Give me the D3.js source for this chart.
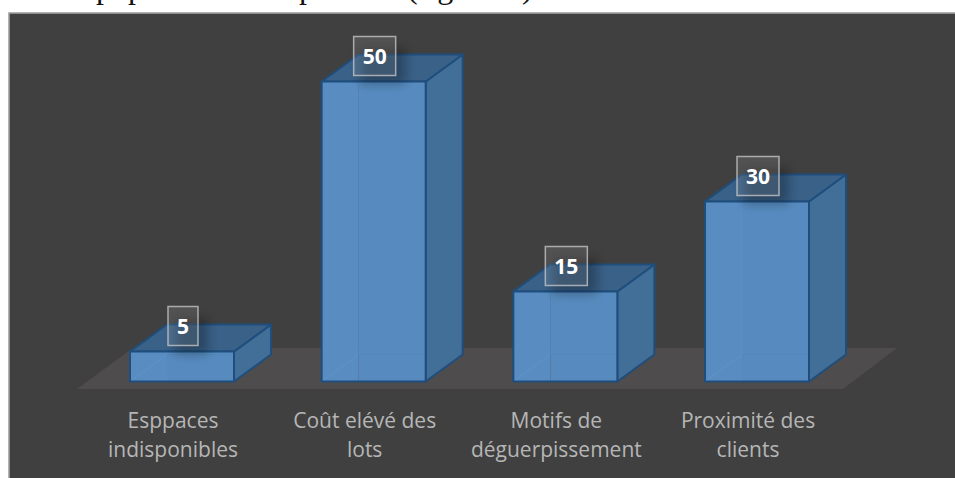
<!DOCTYPE html>
<html>
<head>
<meta charset="utf-8">
<script src="https://cdn.jsdelivr.net/npm/d3@7/dist/d3.min.js"></script>
<style>
html,body{margin:0;padding:0;background:#fff;overflow:hidden}
svg{display:block}
</style>
</head>
<body>
<svg id="c" width="955" height="478"></svg>
<script>
const categories = ["Esppaces\nindisponibles", "Coût elévé des\nlots", "Motifs de\ndéguerpissement", "Proximité des\nclients"];
const values = [5, 50, 15, 30];
const headingParts = [["pop", 96], ["p", 299], ["(fig", 407], [")", 522]];

const svg = d3.select("#c");
const defs = svg.append("defs");
defs.append("filter").attr("id", "soft").attr("x", "-60%").attr("y", "-60%").attr("width", "220%").attr("height", "220%")
  .append("feGaussianBlur").attr("stdDeviation", 5.5);

const x = d3.scaleBand().domain(categories).range([130, 809]).paddingInner(0.4574).paddingOuter(0);
const y = d3.scaleLinear().domain([0, 50]).range([381.5, 81.5]);
const dx = 37, dy = -27;
const poly = pts => pts.map(p => p.join(",")).join(" ");

// clipped heading line of the surrounding document
svg.append("text").attr("font-family", "Liberation Serif").attr("font-size", 32).attr("fill", "#111").attr("y", -2)
  .selectAll("tspan").data(headingParts).join("tspan").attr("x", d => d[1]).text(d => d[0]);

// panel
svg.append("rect").attr("x", 9).attr("y", 13).attr("width", 960).attr("height", 480)
  .attr("fill", "#404040").attr("stroke", "#a0a0a0").attr("stroke-width", 1.6);

// floor
const fy0 = y(0) + 7.5, fy1 = 348;
svg.append("polygon").attr("fill", "#4f4c4d")
  .attr("points", poly([[77, fy0], [843, fy0], [897, fy1], [133, fy1]]));

// bars
const bars = svg.selectAll("g.bar").data(categories.map((c, i) => ({c, v: values[i]}))).join("g").attr("class", "bar");
const w = x.bandwidth();
bars.each(function(d) {
  const g = d3.select(this), l = x(d.c), r = l + w, t = y(d.v), b = y(0);
  const face = (pts, fill, op) => g.append("polygon").attr("points", poly(pts)).attr("fill", fill).attr("fill-opacity", op)
    .attr("stroke", "#1f4e7d").attr("stroke-width", 2).attr("stroke-linejoin", "round");
  // visible faces
  face([[r, t], [r + dx, t + dy], [r + dx, b + dy], [r, b]], "#426f98", 1);
  face([[l, t], [l + dx, t + dy], [r + dx, t + dy], [r, t]], "#3a6188", 1);
  g.append("rect").attr("x", l).attr("y", t).attr("width", dx).attr("height", b - t).attr("fill", "#598dc2");
  g.append("rect").attr("x", l + dx).attr("y", t).attr("width", w - dx).attr("height", b - t).attr("fill", "#578bbf");
  // hidden edges seen through the glass
  g.append("polyline").attr("points", poly([[l + dx, b + dy], [r, b + dy]])).attr("stroke", "#4f86bd").attr("stroke-width", 1).attr("opacity", .7);
  g.append("polyline").attr("points", poly([[l, b], [l + dx, b + dy]])).attr("stroke", "#5f97cf").attr("stroke-width", 1).attr("opacity", .7);
  g.append("polyline").attr("points", poly([[l + dx, t], [l + dx, b + dy]])).attr("stroke", "#5f97cf").attr("stroke-width", 1).attr("opacity", .35);
  g.append("rect").attr("x", l).attr("y", t).attr("width", w).attr("height", b - t)
    .attr("fill", "none").attr("stroke", "#1f4e7d").attr("stroke-width", 2);
});

// value labels
const labels = svg.selectAll("g.lab").data(categories.map((c, i) => ({c, v: values[i]}))).join("g").attr("class", "lab")
  .attr("transform", d => `translate(${x(d.c) + w / 2 + 1},${y(d.v) - 25.5})`);
labels.each(function(d) {
  const g = d3.select(this);
  const t = g.append("text").attr("text-anchor", "middle").attr("dy", "0.36em")
    .attr("font-family", "Open Sans").attr("font-weight", 700).attr("font-size", 21).attr("fill", "#fff").text(d.v);
  const hw = t.node().getComputedTextLength() / 2 + 9;
  g.insert("rect", "text").attr("x", -hw).attr("y", -19.5).attr("width", 2 * hw).attr("height", 39)
    .attr("fill", "#ffffff").attr("fill-opacity", 0.1).attr("stroke", "#c4c4c4").attr("stroke-opacity", .8).attr("stroke-width", 1.5);
  g.insert("rect", "rect").attr("x", -hw + 6).attr("y", -8).attr("width", 2 * hw + 4).attr("height", 36)
    .attr("fill", "#000").attr("fill-opacity", 0.28).attr("filter", "url(#soft)");
});

// category axis
const axis = svg.append("g").attr("transform", "translate(-9,407)")
  .call(d3.axisBottom(x).tickSize(0).tickPadding(0));
axis.select(".domain").remove();
axis.selectAll(".tick text").each(function(d) {
  const t = d3.select(this).attr("font-family", "Open Sans").attr("font-size", 21).attr("fill", "#b6b6b6").attr("dy", null).attr("y", 0);
  t.text(null);
  d.split("\n").forEach((s, i) => t.append("tspan").attr("x", 0).attr("y", 21 + i * 29).text(s));
});
</script>
</body>
</html>
